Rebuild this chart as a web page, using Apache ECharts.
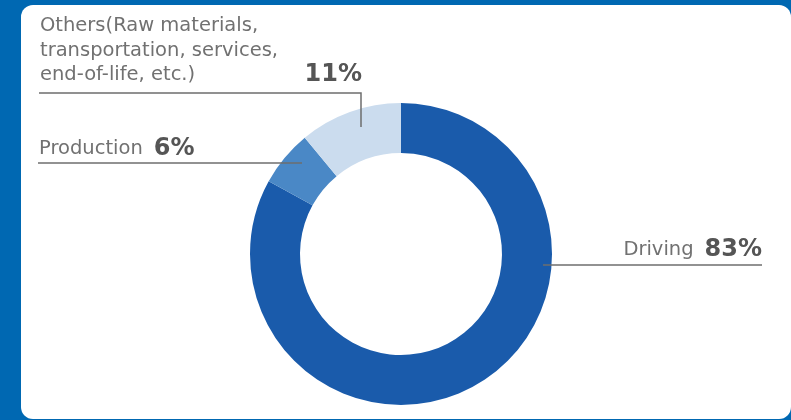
<!DOCTYPE html>
<html><head><meta charset="utf-8">
<script src="https://cdn.jsdelivr.net/npm/echarts@6/dist/echarts.min.js"></script>
<style>html,body{margin:0;padding:0;background:#0068b2;overflow:hidden}#c{width:791px;height:420px}</style>
</head><body><div id="c"></div>
<script>
const categories = ['Driving', 'Production', 'Others'];
const labelLines = [
  ['Driving'],
  ['Production'],
  ['Others(Raw materials,', 'transportation, services,', 'end-of-life, etc.)']
];
const shares = [83, 6, 11];
const colors = ['#1a5bab', '#4a88c6', '#cbdcee'];

const layouts = [
  {x: 762, y: 250, align: 'right', verticalAlign: 'middle', labelLinePoints: [[543, 265], [762, 265]]},
  {x: 39, y: 149, align: 'left', verticalAlign: 'middle', labelLinePoints: [[302, 163], [38, 163]]},
  {x: 40, y: 14, align: 'left', verticalAlign: 'top', labelLinePoints: [[361, 127], [361, 93], [39, 93]]}
];

const pieBase = {
  type: 'pie',
  center: [401, 254],
  radius: [101, 151],
  startAngle: 90,
  clockwise: true,
  avoidLabelOverlap: false,
  silent: true,
  emphasis: {disabled: true}
};

const chart = echarts.init(document.getElementById('c'), null, {renderer: 'canvas'});
chart.setOption({
  backgroundColor: '#0068b2',
  animation: false,
  graphic: [{
    type: 'rect', z: -10, silent: true,
    shape: {x: 21, y: 5, width: 770, height: 414, r: 12},
    style: {fill: '#ffffff'}
  }],
  series: [
    Object.assign({}, pieBase, {
      z: 2,
      itemStyle: {borderWidth: 0},
      label: {show: false},
      labelLine: {show: false},
      data: categories.map((c, i) => ({name: c, value: shares[i], itemStyle: {color: colors[i]}}))
    }),
    Object.assign({}, pieBase, {
      z: 5,
      itemStyle: {color: 'rgba(0,0,0,0)', borderWidth: 0},
      label: {
        show: true,
        position: 'outside',
        opacity: 1,
        formatter: function (p) {
          const ls = labelLines[p.dataIndex];
          if (ls.length === 1) {
            return '{t|' + ls[0] + '}{g|' + p.value + '%}';
          }
          return ls.map(s => '{t|' + s + '}').join('\n') + '{v|' + p.value + '%}';
        },
        rich: {
          t: {fontFamily: 'DejaVu Sans', fontSize: 19.5, color: '#717171', lineHeight: 24.5},
          g: {fontFamily: 'DejaVu Sans', fontSize: 24, fontWeight: 'bold', color: '#555555', lineHeight: 24.5, padding: [0, 0, 0, 11]},
          v: {fontFamily: 'DejaVu Sans', fontSize: 24, fontWeight: 'bold', color: '#555555', lineHeight: 24.5, align: 'right'}
        }
      },
      labelLine: {show: true, smooth: false, lineStyle: {color: '#6e6e6e', width: 1.5, opacity: 1}},
      labelLayout: function (params) {
        return layouts[params.dataIndex];
      },
      data: categories.map((c, i) => ({
        name: c,
        value: shares[i],
        label: i === 2 ? {width: 322} : {}
      }))
    })
  ]
});
</script>
</body></html>
